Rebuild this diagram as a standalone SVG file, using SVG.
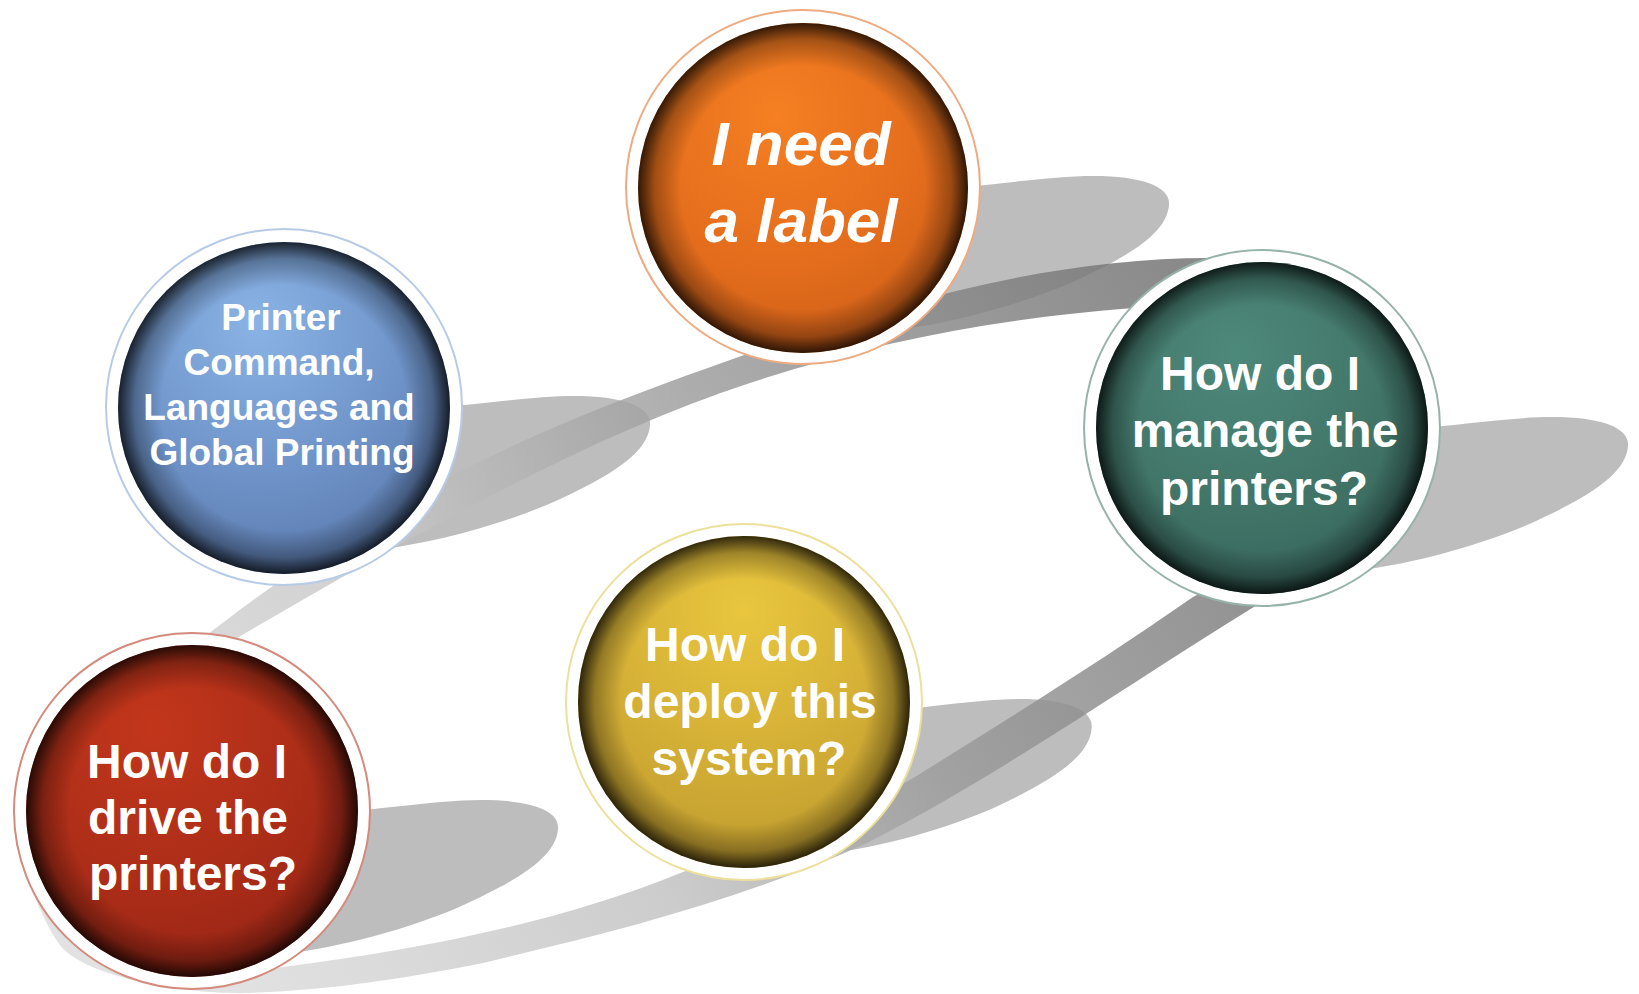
<svg xmlns="http://www.w3.org/2000/svg" xmlns:xlink="http://www.w3.org/1999/xlink" width="1639" height="994" viewBox="0 0 1639 994">
  <style>
    .shadow { fill: #bdbdbd; }
    .ring { fill: #ffffff; stroke-width: 2; }
    .lbl { font-family: "Liberation Sans", Arial, Helvetica, sans-serif; font-weight: bold; fill: #ffffff; text-anchor: middle; }
    .t48 { font-size: 48px; }
    .t37 { font-size: 37px; }
    .t62 { font-size: 62px; font-style: italic; }
  </style>
  <defs>
    <path id="shadowShape" d="M 100,4 C 170,2 240,-11 290,-11 C 340,-11 368,0 366,18 C 364,45 330,68 265,97 C 210,120 150,135 100,142 Z"/>
    <linearGradient id="bandGrad" gradientUnits="userSpaceOnUse" x1="200" y1="950" x2="1200" y2="300">
      <stop offset="0" stop-color="#dcdcdc"/>
      <stop offset="0.35" stop-color="#c2c2c2"/>
      <stop offset="0.6" stop-color="#9c9c9c"/>
      <stop offset="1" stop-color="#727272"/>
    </linearGradient>
    <radialGradient id="vignette" cx="0.5" cy="0.5" r="0.5">
      <stop offset="0.74" stop-color="#000" stop-opacity="0"/>
      <stop offset="0.9" stop-color="#000" stop-opacity="0.3"/>
      <stop offset="1" stop-color="#000" stop-opacity="0.78"/>
    </radialGradient>
    <radialGradient id="gOrange" cx="0.42" cy="0.28" r="0.8">
      <stop offset="0" stop-color="#f57f22"/>
      <stop offset="0.6" stop-color="#e26c1c"/>
      <stop offset="1" stop-color="#cb5c18"/>
    </radialGradient>
    <radialGradient id="gBlue" cx="0.42" cy="0.25" r="0.8">
      <stop offset="0" stop-color="#8ab3e5"/>
      <stop offset="0.55" stop-color="#6f94c9"/>
      <stop offset="1" stop-color="#5a78ab"/>
    </radialGradient>
    <radialGradient id="gTeal" cx="0.42" cy="0.28" r="0.8">
      <stop offset="0" stop-color="#4d897b"/>
      <stop offset="0.6" stop-color="#417467"/>
      <stop offset="1" stop-color="#35625a"/>
    </radialGradient>
    <radialGradient id="gYellow" cx="0.5" cy="0.22" r="0.8">
      <stop offset="0" stop-color="#e9c63e"/>
      <stop offset="0.6" stop-color="#d2ad35"/>
      <stop offset="1" stop-color="#bd9a2e"/>
    </radialGradient>
    <radialGradient id="gRed" cx="0.38" cy="0.25" r="0.8">
      <stop offset="0" stop-color="#c2361b"/>
      <stop offset="0.6" stop-color="#ab2d18"/>
      <stop offset="1" stop-color="#972415"/>
    </radialGradient>
  </defs>

  <g id="shadows">
    <use xlink:href="#shadowShape" href="#shadowShape" class="shadow" transform="translate(803,187)"/>
    <use xlink:href="#shadowShape" href="#shadowShape" class="shadow" transform="translate(284,407)"/>
    <use xlink:href="#shadowShape" href="#shadowShape" class="shadow" transform="translate(1262,428)"/>
    <use xlink:href="#shadowShape" href="#shadowShape" class="shadow" transform="translate(744,710) scale(0.95,1)"/>
    <use xlink:href="#shadowShape" href="#shadowShape" class="shadow" transform="translate(192,811)"/>
  </g>

  <g id="connectors" opacity="0.83">
    <path fill="url(#bandGrad)" fill-rule="evenodd" d="
      M 203,638 C 403,482 550,423 750,353 C 910,297 1060,258 1210,258 C 1260,256 1380,320 1380,430 C 1380,520 1300,580 1257,605
      C 1127,685 997,777 867,843 C 737,902 613,932 483,963 C 403,979 330,990 250,993 C 190,995 85,978 60,945
      C 45,925 25,880 25,850 C 25,770 130,690 203,638 Z
      M 237,638 C 407,539 580,439 750,383 C 880,340 1003,318 1133,308 C 1200,300 1330,360 1330,440 C 1330,520 1250,570 1193,597
      C 1098,663 1005,721 910,780 C 850,815 750,850 683,872 C 553,925 413,950 283,967 C 230,975 120,930 80,850 C 50,780 160,690 237,638 Z"/>
  </g>

  <g id="node-label">
    <circle class="ring" cx="803" cy="187" r="177" stroke="#eeaa80"/>
    <circle cx="803" cy="188" r="165" fill="url(#gOrange)"/>
    <circle cx="803" cy="188" r="165" fill="url(#vignette)"/>
    <text class="lbl t62" x="801" y="165">I need</text>
    <text class="lbl t62" x="801" y="242">a label</text>
  </g>

  <g id="node-languages">
    <circle class="ring" cx="284" cy="407" r="178" stroke="#b7cbe6"/>
    <circle cx="284" cy="408" r="166" fill="url(#gBlue)"/>
    <circle cx="284" cy="408" r="166" fill="url(#vignette)"/>
    <text class="lbl t37" x="281" y="330">Printer</text>
    <text class="lbl t37" x="279" y="375">Command,</text>
    <text class="lbl t37" x="279" y="420">Languages and</text>
    <text class="lbl t37" x="282" y="465">Global Printing</text>
  </g>

  <g id="node-manage">
    <circle class="ring" cx="1262" cy="428" r="178" stroke="#96b2aa"/>
    <circle cx="1262" cy="428" r="166" fill="url(#gTeal)"/>
    <circle cx="1262" cy="428" r="166" fill="url(#vignette)"/>
    <text class="lbl t48" x="1260" y="390">How do I</text>
    <text class="lbl t48" x="1265" y="447">manage the</text>
    <text class="lbl t48" x="1264" y="505">printers?</text>
  </g>

  <g id="node-deploy">
    <circle class="ring" cx="744" cy="702" r="178" stroke="#ece09c"/>
    <circle cx="744" cy="702" r="166" fill="url(#gYellow)"/>
    <circle cx="744" cy="702" r="166" fill="url(#vignette)"/>
    <text class="lbl t48" x="745" y="661">How do I</text>
    <text class="lbl t48" x="750" y="718">deploy this</text>
    <text class="lbl t48" x="749" y="775">system?</text>
  </g>

  <g id="node-drive">
    <circle class="ring" cx="192" cy="811" r="178" stroke="#d48a7c"/>
    <circle cx="192" cy="811" r="166" fill="url(#gRed)"/>
    <circle cx="192" cy="811" r="166" fill="url(#vignette)"/>
    <text class="lbl t48" x="187" y="778">How do I</text>
    <text class="lbl t48" x="188" y="834">drive the</text>
    <text class="lbl t48" x="193" y="890">printers?</text>
  </g>
</svg>
